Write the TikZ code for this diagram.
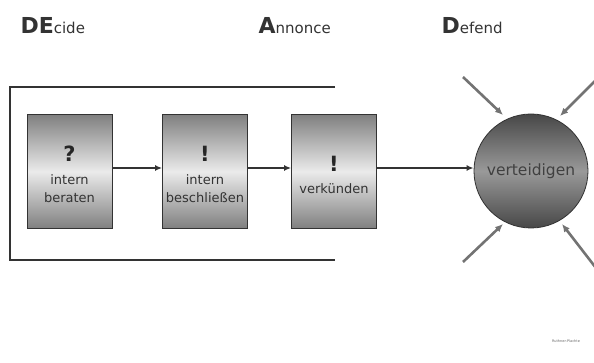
\documentclass[tikz,border=0pt]{standalone}
\usepackage{fontspec}
\setmainfont{DejaVu Sans}
\usetikzlibrary{arrows.meta}
\tikzset{
  stepbox/.style={draw=black!80, line width=0.8pt, minimum width=85pt, minimum height=114pt,
    top color=black!50, bottom color=black!50, middle color=black!8, inner sep=0pt},
  boxtext/.style={align=center, inner sep=0pt, font=\fontsize{13}{18}\selectfont, text=black!80},
  boxsign/.style={inner sep=0pt, font=\fontsize{21}{21}\selectfont\bfseries, text=black!85},
  flow/.style={draw=black!80, line width=1.4pt, -{Latex[length=7pt,width=6pt]}},
  attack/.style={draw=black!55, line width=2.6pt, -{Latex[length=8pt,width=7pt]}},
  frame/.style={draw=black!80, line width=1.6pt},
  title/.style={anchor=base west, text=black!80},
}
\begin{document}
\begin{tikzpicture}[x=1pt,y=-1pt]
\useasboundingbox (0,0) rectangle (594,363);
\clip (0,0) rectangle (594,363);
% titles
\node[title] (t1) at (17,34) {\fontsize{22}{26}\selectfont\bfseries DE\fontsize{15}{18}\mdseries cide};
\node[title] (t2) at (255,34) {\fontsize{22}{26}\selectfont\bfseries A\fontsize{15}{18}\mdseries nnonce};
\node[title] (t3) at (438,34) {\fontsize{22}{26}\selectfont\bfseries D\fontsize{15}{18}\mdseries efend};
% bracket frame
\coordinate (ft) at (335,87);
\coordinate (fb) at (335,260);
\draw[frame] (ft) -- (10,87) -- (10,260) -- (fb);
% boxes
\node[stepbox] (b1) at (69.5,171.5) {};
\node[stepbox] (b2) at (205,171.5) {};
\node[stepbox] (b3) at (334,171.5) {};
\node[boxsign] (m1) at (69.5,154) {?};
\node[boxtext] (x1) at (69.5,188.5) {intern\\beraten};
\node[boxsign] (m2) at (205,154) {!};
\node[boxtext] (x2) at (205,188.5) {intern\\beschließen};
\node[boxsign] (m3) at (334,164) {!};
\node[boxtext] (x3) at (334,189) {verkünden};
% circle
\node[circle, draw=black!80, line width=0.8pt, minimum size=114pt, inner sep=0pt,
  top color=black!72, bottom color=black!72, middle color=black!40,
  text=black!75, font=\fontsize{15.5}{18}\selectfont] (c) at (531,171) {verteidigen};
% flow arrows
\draw[flow] (b1.east |- 0,168) -- (b2.west |- 0,168);
\draw[flow] (b2.east |- 0,168) -- (b3.west |- 0,168);
\draw[flow] (b3.east |- 0,168) -- (c.west |- 0,168);
% attack arrows
\coordinate (a1) at (463,77);   \coordinate (h1) at (503,115);
\coordinate (a2) at (598,78);   \coordinate (h2) at (560,116);
\coordinate (a3) at (463,262);  \coordinate (h3) at (503,224);
\coordinate (a4) at (596,268);  \coordinate (h4) at (562,224);
\draw[attack] (a1) -- (h1);
\draw[attack] (a2) -- (h2);
\draw[attack] (a3) -- (h3);
\draw[attack] (a4) -- (h4);
% footer
\node[font=\fontsize{3.5}{4}\selectfont, text=black!60] (ft2) at (566,341) {Ruthner-Plachte};
\end{tikzpicture}
\end{document}
